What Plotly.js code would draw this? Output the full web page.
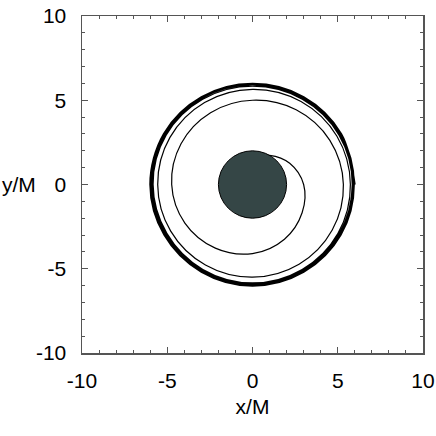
<!DOCTYPE html>
<html>
<head>
<meta charset="utf-8">
<script src="https://cdn.plot.ly/plotly-3.0.1.min.js"></script>
<style>html,body{margin:0;padding:0;background:#fff;}#plot{width:436px;height:436px;}</style>
</head>
<body>
<div id="plot"></div>
<script>
// Orbit: cumulative angle (degrees, counter-clockwise) and radius r/M
const orbitPhiDeg = [
  0, 30, 60, 90, 120, 150, 180, 210, 240, 270, 300, 330,
  360, 390, 420, 450, 480, 510, 540, 570, 600, 630, 660, 690,
  720, 750, 780, 810, 840, 870, 900, 930, 960, 990, 1020, 1050,
  1080, 1110, 1140, 1170, 1200, 1230, 1260, 1290, 1320, 1350, 1380, 1410,
  1440, 1470, 1500, 1530, 1560, 1590, 1620, 1650, 1680, 1710, 1740, 1770,
  1800, 1830, 1860, 1890, 1920, 1950, 1980, 2010, 2040, 2070, 2100, 2130,
  2160, 2190, 2220, 2250
];
const orbitR = [
  6.02, 6.03, 6.02, 6.00, 6.01, 6.03, 6.02, 6.00, 6.01, 6.03, 6.02, 6.00,
  5.97, 5.98, 5.96, 5.95, 5.97, 5.98, 5.96, 5.94, 5.96, 5.98, 5.96, 5.93,
  5.91, 5.92, 5.90, 5.89, 5.91, 5.92, 5.90, 5.87, 5.89, 5.91, 5.89, 5.86,
  5.85, 5.86, 5.84, 5.83, 5.84, 5.85, 5.83, 5.80, 5.82, 5.84, 5.82, 5.79,
  5.74, 5.72, 5.69, 5.65, 5.62, 5.59, 5.56, 5.54, 5.52, 5.50, 5.46, 5.40,
  5.33, 5.24, 5.12, 5.00, 4.92, 4.84, 4.74, 4.58, 4.36, 4.10, 3.75, 3.36,
  3.00, 2.52, 2.00, 1.60
];
const horizonR = 2;
const tickVals = [-10, -5, 0, 5, 10];
const tickText = ['-10', '-5', '0', '5', '10'];
const xLabel = 'x/M';
const yLabel = 'y/M';

const orbitX = orbitPhiDeg.map((p, i) => orbitR[i] * Math.cos(p * Math.PI / 180));
const orbitY = orbitPhiDeg.map((p, i) => orbitR[i] * Math.sin(p * Math.PI / 180));

const FONT = 'Liberation Sans, Arial, Helvetica, sans-serif';
const axisCommon = {
  range: [-10, 10],
  tickvals: tickVals,
  ticktext: tickText,
  ticks: 'inside',
  ticklen: 6,
  tickwidth: 1,
  tickcolor: '#555',
  minor: {dtick: 1, ticks: 'inside', ticklen: 3, tickcolor: '#555', tickwidth: 1},
  showline: true,
  linecolor: '#555',
  linewidth: 1.5,
  mirror: 'ticks',
  showgrid: false,
  zeroline: false,
  tickfont: {family: FONT, size: 21, color: '#000'}
};

const data = [{
  type: 'scatter',
  mode: 'lines',
  x: orbitX,
  y: orbitY,
  line: {color: '#000', width: 1.2, shape: 'spline', smoothing: 1},
  hoverinfo: 'skip'
}];

const layout = {
  width: 436,
  height: 436,
  margin: {l: 82, r: 13, t: 16, b: 83},
  paper_bgcolor: '#fff',
  plot_bgcolor: '#fff',
  showlegend: false,
  font: {family: FONT, size: 21, color: '#000'},
  xaxis: Object.assign({}, axisCommon, {
    ticklabelstandoff: 8,
    title: {text: xLabel, font: {family: FONT, size: 21, color: '#000'}, standoff: 8}
  }),
  yaxis: Object.assign({}, axisCommon, {
    ticklabelstandoff: 10
  }),
  shapes: [{
    type: 'circle',
    xref: 'x', yref: 'y',
    x0: -horizonR, x1: horizonR, y0: -horizonR, y1: horizonR,
    fillcolor: '#354646',
    line: {color: '#000', width: 1},
    layer: 'above'
  }],
  annotations: [{
    text: yLabel,
    xref: 'paper', yref: 'y',
    x: -82 / 341, y: 0,
    xanchor: 'left', yanchor: 'middle',
    showarrow: false,
    font: {family: FONT, size: 21, color: '#000'}
  }]
};

Plotly.newPlot('plot', data, layout, {staticPlot: true, displayModeBar: false});
</script>
</body>
</html>
